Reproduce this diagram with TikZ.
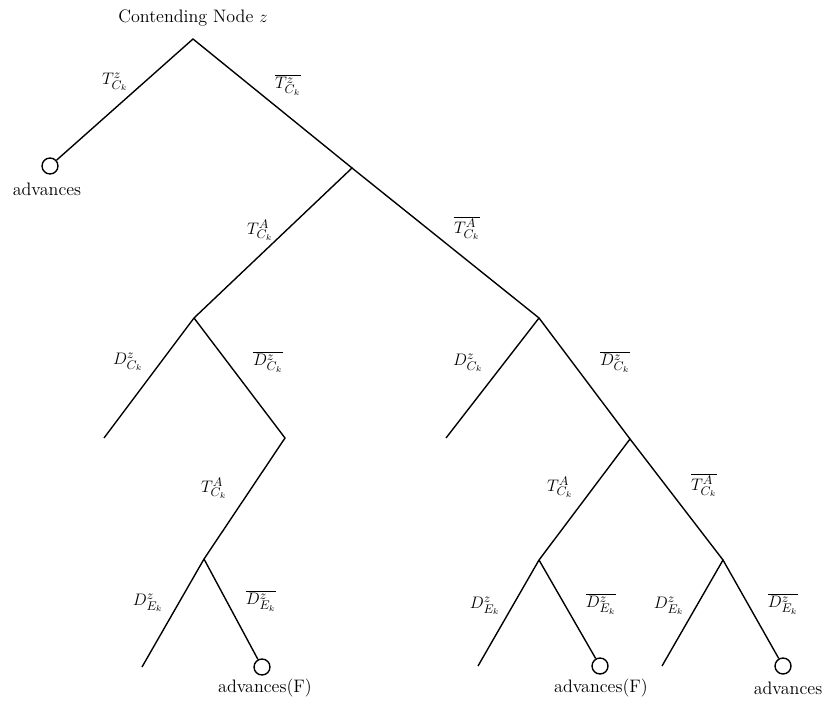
\documentclass[tikz,border=0pt]{standalone}
\usepackage{tikz}
\usetikzlibrary{positioning}

\begin{document}
\begin{tikzpicture}[x=0.72pt, y=-0.72pt,
    font=\fontsize{13}{15}\selectfont,
    branch/.style={line width=1pt},
    leafball/.style={draw, circle, line width=1pt, minimum size=11.5pt, inner sep=0pt},
    edgelbl/.style={inner sep=1pt}]
  \useasboundingbox (0,0) rectangle (828,705);
  % tree points
  \coordinate (root) at (193,39);
  \coordinate (n1) at (352,168);
  \coordinate (n2) at (194,318);
  \coordinate (n3) at (539,318);
  \coordinate (n5) at (285,438);
  \coordinate (n6) at (204,559);
  \coordinate (n4) at (630,439);
  \coordinate (n7) at (539,560);
  \coordinate (n8) at (723,560);
  \coordinate (l1) at (104,438);
  \coordinate (l2) at (142,667);
  \coordinate (l3) at (446,438);
  \coordinate (l4) at (478,666);
  \coordinate (l5) at (662,666);
  \node[leafball] (c1) at (50,166) {};
  \node[leafball] (c2) at (262,667) {};
  \node[leafball] (c3) at (600,666) {};
  \node[leafball] (c4) at (783,666) {};

  \node (top) at (193,18) {Contending Node $z$};
  \node (adv1) at (47,189) {advances};
  \node (adv2) at (265,688) {advances(F)};
  \node (adv3) at (601,688) {advances(F)};
  \node (adv4) at (788,688) {advances};

  \draw[branch] (c1) -- (root) -- (n1) -- (n2) -- (l1);
  \draw[branch] (n1) -- (n3) -- (l3);
  \draw[branch] (n2) -- (n5) -- (n6) -- (l2);
  \draw[branch] (n6) -- (c2);
  \draw[branch] (n3) -- (n4) -- (n7) -- (l4);
  \draw[branch] (n7) -- (c3);
  \draw[branch] (n4) -- (n8) -- (l5);
  \draw[branch] (n8) -- (c4);

  % branch labels
  \node[edgelbl] (t1) at (115,82) {$T^{z}_{C_k}$};
  \node[edgelbl] (t2) at (288,85) {$\overline{T^{z}_{C_k}}$};
  \node[edgelbl] (t3) at (260,230) {$T^{A}_{C_k}$};
  \node[edgelbl] (t4) at (467,228) {$\overline{T^{A}_{C_k}}$};
  \node[edgelbl] (d1) at (128,362) {$D^{z}_{C_k}$};
  \node[edgelbl] (d2) at (268,362) {$\overline{D^{z}_{C_k}}$};
  \node[edgelbl] (d3) at (468,363) {$D^{z}_{C_k}$};
  \node[edgelbl] (d4) at (615,362) {$\overline{D^{z}_{C_k}}$};
  \node[edgelbl] (t5) at (214,488) {$T^{A}_{C_k}$};
  \node[edgelbl] (t6) at (560,487) {$T^{A}_{C_k}$};
  \node[edgelbl] (t7) at (704,485) {$\overline{T^{A}_{C_k}}$};
  \node[edgelbl] (e1) at (148,603) {$D^{z}_{E_k}$};
  \node[edgelbl] (e2) at (261,601) {$\overline{D^{z}_{E_k}}$};
  \node[edgelbl] (e3) at (485,606) {$D^{z}_{E_k}$};
  \node[edgelbl] (e4) at (601,604) {$\overline{D^{z}_{E_k}}$};
  \node[edgelbl] (e5) at (669,606) {$D^{z}_{E_k}$};
  \node[edgelbl] (e6) at (783,604) {$\overline{D^{z}_{E_k}}$};
\end{tikzpicture}
\end{document}
